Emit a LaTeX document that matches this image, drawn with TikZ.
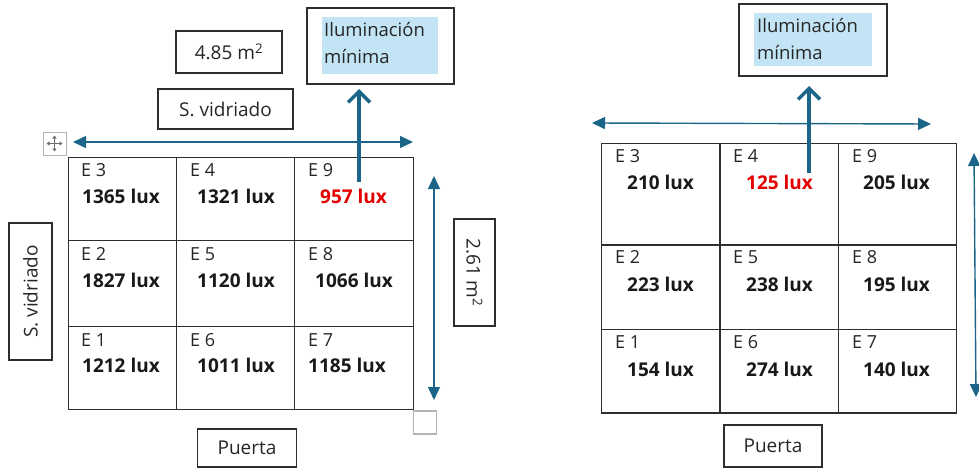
\documentclass[tikz,border=0pt]{standalone}
\usepackage{fontspec}
\setmainfont{Open Sans}
\usetikzlibrary{arrows.meta}
\definecolor{arrblue}{HTML}{1B6588}
\definecolor{hilite}{HTML}{C2E4F4}
\definecolor{gridc}{HTML}{2E2E2E}
\definecolor{handle}{HTML}{B4B4B4}
\tikzset{
  x=1pt, y=-1pt,
  cell/.style={draw=gridc, line width=1.3pt, inner sep=0pt, anchor=north west},
  lab/.style={anchor=base west, inner sep=0pt, font=\fontsize{18}{20}\selectfont, text=black!85},
  val/.style={anchor=base west, inner sep=0pt, font=\fontsize{19}{20}\selectfont\bfseries, text=black!90},
  redval/.style={val, text=red!90!black},
  tbox/.style={draw=gridc, line width=1.2pt, inner sep=0pt, font=\fontsize{19}{21}\selectfont, text=black!85},
  thin arrow/.style={draw=arrblue, line width=1.4pt, {Triangle[length=13pt,width=12pt]}-{Triangle[length=13pt,width=12pt]}},
  thick arrow/.style={draw=arrblue, line width=4pt, -{Straight Barb[length=11pt,width=22pt,line width=3.5pt]}},
  hbox/.style={fill=hilite, inner sep=0pt, anchor=north west},
  ilum/.style={anchor=base west, inner sep=0pt, align=left, font=\fontsize{18.5}{27}\selectfont, text=black!85},
}
\begin{document}
\begin{tikzpicture}
\useasboundingbox (0,0) rectangle (979,468);
% ---------------- LEFT ----------------
% grid
\node[cell, minimum width=107.7pt, minimum height=83pt] (L3) at (68,157) {};
\node[cell, minimum width=118.3pt, minimum height=83pt] (L4) at (175.7,157) {};
\node[cell, minimum width=118.7pt, minimum height=83pt] (L9) at (294,157) {};
\node[cell, minimum width=107.7pt, minimum height=86pt] (L2) at (68,240) {};
\node[cell, minimum width=118.3pt, minimum height=86pt] (L5) at (175.7,240) {};
\node[cell, minimum width=118.7pt, minimum height=86pt] (L8) at (294,240) {};
\node[cell, minimum width=107.7pt, minimum height=83pt] (L1) at (68,326) {};
\node[cell, minimum width=118.3pt, minimum height=83pt] (L6) at (175.7,326) {};
\node[cell, minimum width=118.7pt, minimum height=83pt] (L7) at (294,326) {};
% labels
\node[lab] (lE3) at (81,176) {E 3};
\node[val] (lV3) at (82,203) {1365 lux};
\node[lab] (lE4) at (190,176) {E 4};
\node[val] (lV4) at (197,203) {1321 lux};
\node[lab] (lE9) at (308,176) {E 9};
\node[redval] (lV9) at (320,203) {957 lux};
\node[lab] (lE2) at (81,260) {E 2};
\node[val] (lV2) at (82,287) {1827 lux};
\node[lab] (lE5) at (190,260) {E 5};
\node[val] (lV5) at (197,287) {1120 lux};
\node[lab] (lE8) at (308,260) {E 8};
\node[val] (lV8) at (315,287) {1066 lux};
\node[lab] (lE1) at (81,346) {E 1};
\node[val] (lV1) at (82,372) {1212 lux};
\node[lab] (lE6) at (190,346) {E 6};
\node[val] (lV6) at (197,372) {1011 lux};
\node[lab] (lE7) at (308,346) {E 7};
\node[val] (lV7) at (308,372) {1185 lux};
% boxes
\node[tbox, minimum width=106pt, minimum height=42pt] (area) at (229,52) {4.85 m\textsuperscript{2}};
\node[tbox, minimum width=135pt, minimum height=40pt] (svtop) at (225.5,109) {S. vidriado};
\node[tbox, minimum width=137pt, minimum height=43pt, rotate=90] (svleft) at (30.5,291.5) {S. vidriado};
\node[tbox, minimum width=107pt, minimum height=41pt, rotate=-90] (dim) at (474.5,272.5) {2.61 m\textsuperscript{2}};
\node[tbox, minimum width=99pt, minimum height=38pt] (puertaL) at (247,448) {Puerta};
\node[draw=gridc, line width=1.2pt, minimum width=147pt, minimum height=76pt, inner sep=0pt] (ilumL) at (380.5,46) {};
\node[hbox, minimum width=116pt, minimum height=57pt] (hlL) at (322,17) {};
\node[ilum] (tL) at (324,64) {Iluminación\\mínima};
% arrows
\coordinate (hLa) at (73,142);
\coordinate (hLb) at (413,142);
\draw[thin arrow] (hLa) -- (hLb);
\coordinate (vLa) at (434,176);
\coordinate (vLb) at (434,400);
\draw[thin arrow] (vLa) -- (vLb);
\coordinate (upL0) at (359,182);
\coordinate (upL1) at (359,89);
\draw[thick arrow] (upL0) -- (upL1);
% word handles
\node[draw=handle, line width=1pt, minimum size=23pt, inner sep=0pt] (mvh) at (54.5,143.5) {};
\draw[handle!60!black, line width=0.9pt, {Triangle[length=3pt,width=4pt]}-{Triangle[length=3pt,width=4pt]}] ([xshift=-8pt]mvh.center) -- ([xshift=8pt]mvh.center);
\draw[handle!60!black, line width=0.9pt, {Triangle[length=3pt,width=4pt]}-{Triangle[length=3pt,width=4pt]}] ([yshift=-8pt]mvh.center) -- ([yshift=8pt]mvh.center);
\node[draw=handle, line width=1.5pt, minimum size=23pt, inner sep=0pt] (rsh) at (425,422.5) {};
% ---------------- RIGHT ----------------
\node[cell, minimum width=118.6pt, minimum height=101.6pt] (R3) at (600.7,142.7) {};
\node[cell, minimum width=118.4pt, minimum height=101.6pt] (R4) at (719.3,142.7) {};
\node[cell, minimum width=118.3pt, minimum height=101.6pt] (R9) at (837.7,142.7) {};
\node[cell, minimum width=118.6pt, minimum height=84.7pt] (R2) at (600.7,244.3) {};
\node[cell, minimum width=118.4pt, minimum height=84.7pt] (R5) at (719.3,244.3) {};
\node[cell, minimum width=118.3pt, minimum height=84.7pt] (R8) at (837.7,244.3) {};
\node[cell, minimum width=118.6pt, minimum height=83.3pt] (R1) at (600.7,329) {};
\node[cell, minimum width=118.4pt, minimum height=83.3pt] (R6) at (719.3,329) {};
\node[cell, minimum width=118.3pt, minimum height=83.3pt] (R7) at (837.7,329) {};
\node[lab] (rE3) at (615,162.5) {E 3};
\node[val] (rV3) at (627,189) {210 lux};
\node[lab] (rE4) at (733,162.5) {E 4};
\node[redval] (rV4) at (746,189) {125 lux};
\node[lab] (rE9) at (852,162.5) {E 9};
\node[val] (rV9) at (863,189) {205 lux};
\node[lab] (rE2) at (615,263) {E 2};
\node[val] (rV2) at (627,291) {223 lux};
\node[lab] (rE5) at (733,263) {E 5};
\node[val] (rV5) at (746,291) {238 lux};
\node[lab] (rE8) at (852,263) {E 8};
\node[val] (rV8) at (863,291) {195 lux};
\node[lab] (rE1) at (615,348) {E 1};
\node[val] (rV1) at (627,376) {154 lux};
\node[lab] (rE6) at (733,348) {E 6};
\node[val] (rV6) at (746,376) {274 lux};
\node[lab] (rE7) at (852,348) {E 7};
\node[val] (rV7) at (863,376) {140 lux};
\node[tbox, minimum width=98pt, minimum height=42pt] (puertaR) at (773,446) {Puerta};
\node[draw=gridc, line width=1.2pt, minimum width=148pt, minimum height=72pt, inner sep=0pt] (ilumR) at (813,40) {};
\node[hbox, minimum width=118pt, minimum height=53pt] (hlR) at (754,13) {};
\node[ilum] (tR) at (757,60) {Iluminación\\mínima};
\coordinate (hRa) at (592,123);
\coordinate (hRb) at (931,124);
\draw[thin arrow] (hRa) -- (hRb);
\coordinate (vRa) at (974,153);
\coordinate (vRb) at (976,397);
\draw[thin arrow] (vRa) -- (vRb);
\coordinate (upR0) at (809,173);
\coordinate (upR1) at (809,86);
\draw[thick arrow] (upR0) -- (upR1);
\end{tikzpicture}
\end{document}
